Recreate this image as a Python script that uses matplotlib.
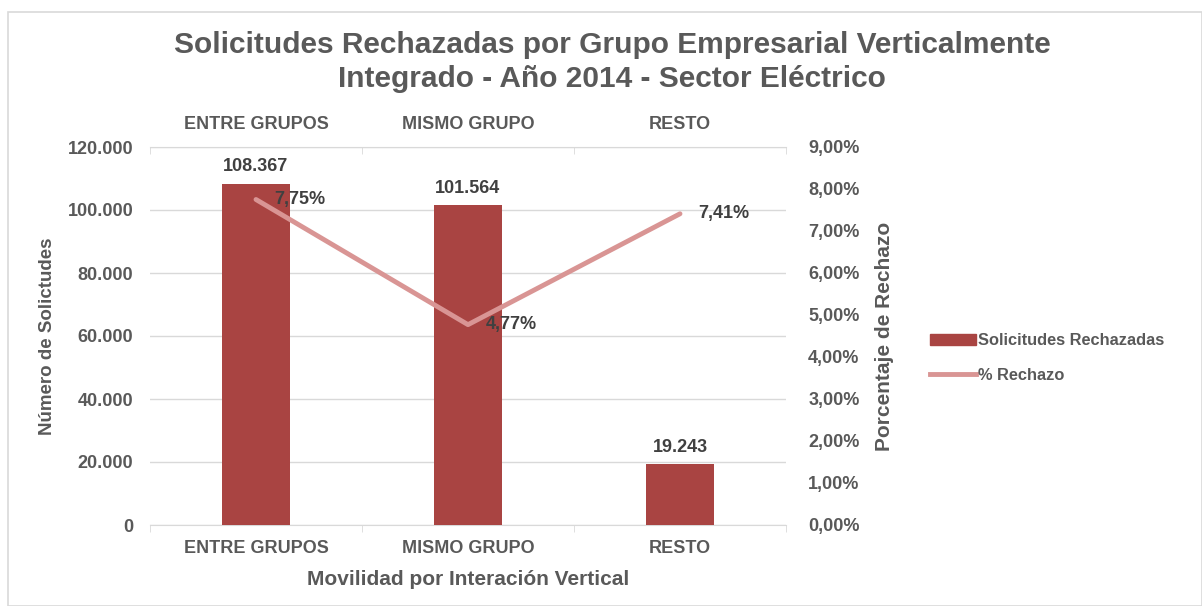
import matplotlib
matplotlib.use("Agg")
import matplotlib.pyplot as plt
from matplotlib.patches import Rectangle
from matplotlib.lines import Line2D

categories = ["ENTRE GRUPOS", "MISMO GRUPO", "RESTO"]
solicitudes = [108367, 101564, 19243]
rechazo_pct = [7.75, 4.77, 7.41]
bar_labels = ["108.367", "101.564", "19.243"]
pct_labels = ["7,75%", "4,77%", "7,41%"]
left_ticks = [0, 20000, 40000, 60000, 80000, 100000, 120000]
left_ticklabels = ["0", "20.000", "40.000", "60.000", "80.000", "100.000", "120.000"]
right_ticks = [0, 1, 2, 3, 4, 5, 6, 7, 8, 9]
right_ticklabels = ["0,00%", "1,00%", "2,00%", "3,00%", "4,00%", "5,00%", "6,00%", "7,00%", "8,00%", "9,00%"]

TXT = "#595959"
BAR = "#A94442"
LINE = "#D99594"
GRID = "#D9D9D9"

plt.rcParams['font.family'] = ['Liberation Sans', 'DejaVu Sans']
plt.rcParams['font.weight'] = 'bold'

W, H = 1202, 606
fig = plt.figure(figsize=(W/100, H/100), dpi=100)
fig.patches.append(Rectangle((8/W, 0), 1 - 8/W, 1 - 12/H, transform=fig.transFigure,
                             fill=False, edgecolor="#D9D9D9", linewidth=1.2))

TS = 13
x0, x1 = 150, 786
y0, y1 = 525, 147
ax = fig.add_axes([x0/W, 1 - y0/H, (x1-x0)/W, (y0-y1)/H])
xs = list(range(len(categories)))
ax.bar(xs, solicitudes, width=0.32, color=BAR, zorder=3)
ax.set_xlim(-0.5, len(categories) - 0.5)
ax.set_ylim(0, 120000)
ax.set_yticks(left_ticks)
ax.set_yticklabels(left_ticklabels, fontweight='bold', fontsize=TS, color=TXT)
ax.set_xticks(xs)
ax.set_xticklabels(categories, fontweight='bold', fontsize=TS, color=TXT)
ax.grid(axis='y', color=GRID, linewidth=1, zorder=0)
for s in ['top', 'right', 'left']:
    ax.spines[s].set_visible(False)
ax.spines['bottom'].set_color(GRID)
ax.tick_params(axis='y', length=0, pad=12)
ax.tick_params(axis='x', length=0, pad=11)
ax.set_xticks([-0.5, 0.5, 1.5, 2.5], minor=True)
ax.tick_params(axis='x', which='minor', length=5, color=GRID, direction='out')
ax.set_xlabel("Movilidad por Interación Vertical", fontsize=15, color=TXT, fontweight='bold', labelpad=9)
ax.set_ylabel("Número de Solictudes", fontsize=13.5, color=TXT, fontweight='bold', labelpad=8)
for x, v, lab in zip(xs, solicitudes, bar_labels):
    ax.annotate(lab, (x, v), xytext=(0, 6), textcoords='offset points', ha='center', va='bottom',
                fontsize=TS, color="#404040", fontweight='bold')

ax2 = ax.twinx()
ax2.set_ylim(0, 9)
ax2.plot(xs, rechazo_pct, color=LINE, linewidth=3.5, zorder=4, solid_capstyle='round')
ax2.set_yticks(right_ticks)
ax2.set_yticklabels(right_ticklabels, fontweight='bold', fontsize=TS, color=TXT)
for s in ['top', 'right', 'left', 'bottom']:
    ax2.spines[s].set_visible(False)
ax2.tick_params(axis='y', length=0, pad=16)
ax2.set_ylabel("Porcentaje de Rechazo", fontsize=15, color=TXT, fontweight='bold', labelpad=11)
for x, v, lab in zip(xs, rechazo_pct, pct_labels):
    ax2.annotate(lab, (x, v), xytext=(13, 0), textcoords='offset points', ha='left', va='center',
                 fontsize=TS, color="#404040", fontweight='bold')

ax3 = ax.twiny()
ax3.set_xlim(ax.get_xlim())
ax3.set_xticks(xs)
ax3.set_xticklabels(categories, fontweight='bold', fontsize=TS, color=TXT)
ax3.set_xticks([-0.5, 0.5, 1.5, 2.5], minor=True)
ax3.tick_params(axis='x', which='major', length=0, pad=10)
ax3.tick_params(axis='x', which='minor', length=5, color=GRID, direction='in')
for s in ['bottom', 'right', 'left']:
    ax3.spines[s].set_visible(False)
ax3.spines['top'].set_color(GRID)

fig.text(612/W, 1 - 62/H, "Solicitudes Rechazadas por Grupo Empresarial Verticalmente\nIntegrado - Año 2014 - Sector Eléctrico",
         ha='center', va='center', fontsize=21.5, color=TXT, fontweight='bold', linespacing=1.25)

handles = [Rectangle((0, 0), 1, 1, color=BAR), Line2D([0], [0], color=LINE, linewidth=3.5)]
fig.legend(handles, ["Solicitudes Rechazadas", "% Rechazo"], loc='center left',
           bbox_to_anchor=(915/W, 1 - 358/H), frameon=False,
           prop={'size': 11.8, 'weight': 'bold'},
           labelcolor=TXT, handlelength=2.8, handletextpad=0.15, labelspacing=1.2)

fig.savefig("out.png", dpi=100)
